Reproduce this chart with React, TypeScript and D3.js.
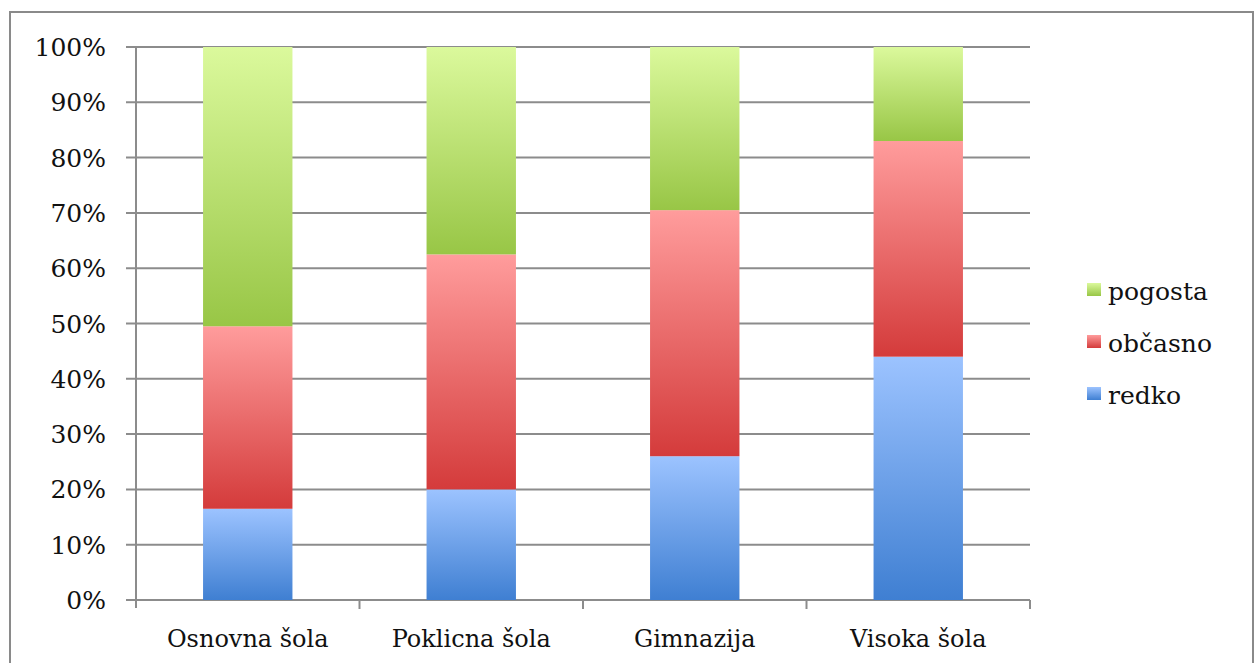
import React, { useEffect, useRef } from 'react';
import * as d3 from 'd3';

const categories = ['Osnovna šola', 'Poklicna šola', 'Gimnazija', 'Visoka šola'];
const seriesNames = ['redko', 'občasno', 'pogosta'];
const redko = [16.5, 20, 26, 44];
const obcasno = [33, 42.5, 44.5, 39];
const pogosta = [50.5, 37.5, 29.5, 17];
const yTicks = [0, 10, 20, 30, 40, 50, 60, 70, 80, 90, 100];

// top / bottom colours of each segment gradient
const gradients: Record<string, [string, string]> = {
  redko: ['#9cc3ff', '#3f7fd2'],
  'občasno': ['#ff9c9c', '#d43b3b'],
  pogosta: ['#dbf99c', '#98c646'],
};

const W = 1255;
const H = 663;
const plotLeft = 136;
const plotRight = 1030;
const plotTop = 47;
const plotBottom = 600;
const FONT = '"DejaVu Serif", serif';

export default function App() {
  const svgRef = useRef<SVGSVGElement>(null);

  useEffect(() => {
    if (!svgRef.current) return;
    const svg = d3.select(svgRef.current);
    svg.selectAll('*').remove();

    const defs = svg.append('defs');
    seriesNames.forEach((s, i) => {
      const g = defs.append('linearGradient')
        .attr('id', `grad${i}`)
        .attr('x1', 0).attr('y1', 0).attr('x2', 0).attr('y2', 1);
      g.append('stop').attr('offset', '0%').attr('stop-color', gradients[s][0]);
      g.append('stop').attr('offset', '100%').attr('stop-color', gradients[s][1]);
    });

    // outer frame
    svg.append('rect')
      .attr('x', 10).attr('y', 12).attr('width', 1243).attr('height', 680)
      .attr('fill', 'none').attr('stroke', '#8a8a8a').attr('stroke-width', 2);

    const x = d3.scaleBand<string>()
      .domain(categories)
      .range([plotLeft, plotRight])
      .paddingInner(0.6)
      .paddingOuter(0.3);
    const y = d3.scaleLinear().domain([0, 100]).range([plotBottom, plotTop]);

    // gridlines
    svg.append('g').selectAll('line')
      .data(yTicks)
      .join('line')
      .attr('x1', plotLeft - 10).attr('x2', plotRight)
      .attr('y1', d => y(d)).attr('y2', d => y(d))
      .attr('stroke', '#8c8c8c').attr('stroke-width', 2);

    // y axis line
    svg.append('line')
      .attr('x1', plotLeft).attr('x2', plotLeft)
      .attr('y1', y(100)).attr('y2', y(0) + 8)
      .attr('stroke', '#8c8c8c').attr('stroke-width', 2);

    // category ticks
    const step = x.step();
    svg.append('g').selectAll('line')
      .data(categories)
      .join('line')
      .attr('x1', (_, i) => plotLeft + step * (i + 1)).attr('x2', (_, i) => plotLeft + step * (i + 1))
      .attr('y1', y(0)).attr('y2', y(0) + 9)
      .attr('stroke', '#8c8c8c').attr('stroke-width', 2);

    // y labels
    svg.append('g').selectAll('text')
      .data(yTicks)
      .join('text')
      .attr('x', 106).attr('y', d => y(d))
      .attr('dy', '0.36em')
      .attr('text-anchor', 'end')
      .attr('font-family', FONT).attr('font-size', 25)
      .attr('fill', '#111')
      .text(d => `${d}%`);

    // category labels
    svg.append('g').selectAll('text')
      .data(categories)
      .join('text')
      .attr('x', d => x(d)! + x.bandwidth() / 2)
      .attr('y', y(0) + 47)
      .attr('text-anchor', 'middle')
      .attr('font-family', FONT).attr('font-size', 24)
      .attr('fill', '#111')
      .text(d => d);

    // stacked bars
    const rows = categories.map((c, i) => ({ cat: c, redko: redko[i], 'občasno': obcasno[i], pogosta: pogosta[i] }));
    const layers = d3.stack<any>().keys(seriesNames)(rows);
    layers.forEach((layer, li) => {
      svg.append('g').selectAll('rect')
        .data(layer)
        .join('rect')
        .attr('x', d => x(d.data.cat)!)
        .attr('width', x.bandwidth())
        .attr('y', d => y(d[1]))
        .attr('height', d => y(d[0]) - y(d[1]))
        .attr('fill', `url(#grad${li})`);
    });

    // legend
    const legend = svg.append('g');
    [...seriesNames].reverse().forEach((s, i) => {
      const cy = 292 + i * 52;
      const gi = seriesNames.indexOf(s);
      legend.append('rect')
        .attr('x', 1087).attr('y', cy - 9).attr('width', 14).attr('height', 13)
        .attr('fill', `url(#grad${gi})`);
      legend.append('text')
        .attr('x', 1108).attr('y', cy)
        .attr('dy', '0.3em')
        .attr('font-family', FONT).attr('font-size', 25)
        .attr('fill', '#111')
        .text(s);
    });
  }, []);

  return (
    <svg ref={svgRef} width={W} height={H}
      style={{ position: 'absolute', left: 0, top: 0, background: '#fff' }} />
  );
}
